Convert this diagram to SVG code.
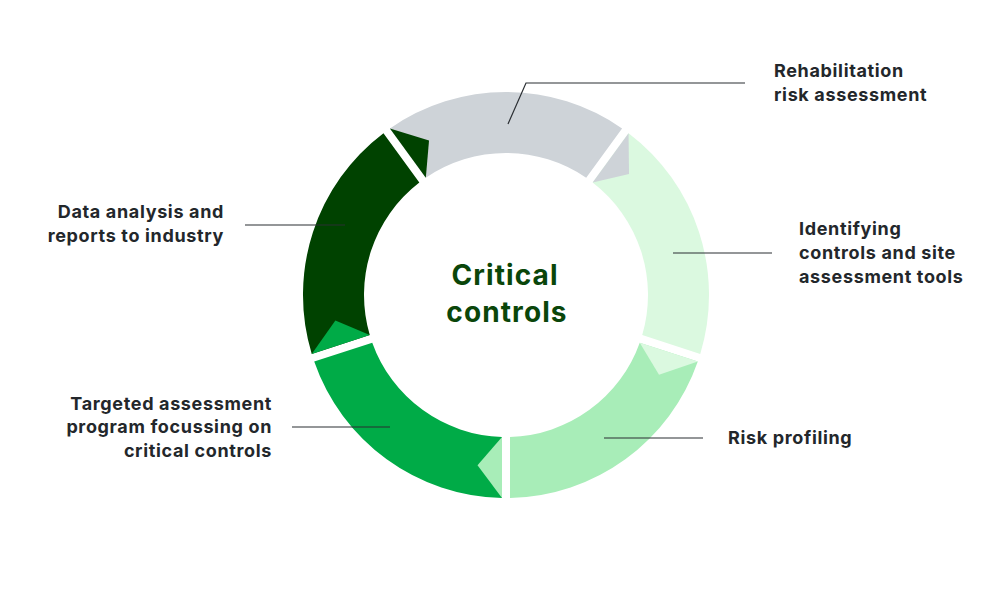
<svg xmlns="http://www.w3.org/2000/svg" width="1000" height="590" viewBox="0 0 1000 590">
  <style>
    .lbl { font-family: Inter, "Liberation Sans", sans-serif; font-weight: 700; font-size: 18px; fill: #23272b; letter-spacing: 0.65px; }
    .ctr { font-family: Inter, "Liberation Sans", sans-serif; font-weight: 700; font-size: 28px; fill: #0a460a; letter-spacing: 1.1px; }
    .lead { fill: none; stroke: #2b2f33; stroke-width: 1.2; }
    .c-gray { fill: #ced3d8; }
    .c-light { fill: #dbf9e0; }
    .c-mid { fill: #a8edb8; }
    .c-green { fill: #00ab47; }
    .c-dark { fill: #004200; }
  </style>
  <rect width="1000" height="590" fill="#ffffff"/>

  <g id="seg-rehabilitation">
    <path class="c-gray" d="M389.94,128.45 A203,203 0 0 1 622.06,128.45 L586.19,177.82 A142,142 0 0 0 425.81,177.82 Z"/>
  </g>
  <g id="seg-identifying">
    <path class="c-light" d="M628.54,133.15 A203,203 0 0 1 700.27,353.92 L642.23,335.06 A142,142 0 0 0 592.67,182.52 Z"/>
  </g>
  <g id="seg-risk-profiling">
    <path class="c-mid" d="M697.79,361.52 A203,203 0 0 1 510,497.96 L510,436.94 A142,142 0 0 0 639.75,342.66 Z"/>
  </g>
  <g id="seg-targeted">
    <path class="c-green" d="M502,497.96 A203,203 0 0 1 314.21,361.52 L372.25,342.66 A142,142 0 0 0 502,436.94 Z"/>
  </g>
  <g id="seg-data-analysis">
    <path class="c-dark" d="M311.73,353.92 A203,203 0 0 1 383.46,133.15 L419.33,182.52 A142,142 0 0 0 369.77,335.06 Z"/>
  </g>

  <g id="arrowheads">
    <polygon class="c-dark" points="389.94,128.45 429.03,140.62 425.81,177.82"/>
    <polygon class="c-gray" points="628.54,133.15 629.04,174.09 592.67,182.52"/>
    <polygon class="c-light" points="697.79,361.52 659.01,374.65 639.75,342.66"/>
    <polygon class="c-mid" points="502,497.96 477.53,465.14 502,436.94"/>
    <polygon class="c-green" points="311.73,353.92 335.39,320.50 369.77,335.06"/>
  </g>

  <g id="connectors">
    <polyline class="lead" points="508,124 526,83 745,83"/>
    <line class="lead" x1="673" y1="253" x2="772" y2="253"/>
    <line class="lead" x1="604" y1="438" x2="703" y2="438"/>
    <line class="lead" x1="245" y1="225" x2="345" y2="225"/>
    <line class="lead" x1="292" y1="427" x2="390" y2="427"/>
  </g>

  <g id="center-label">
    <text class="ctr" x="505" y="285" text-anchor="middle">Critical</text>
    <text class="ctr" x="507" y="322" text-anchor="middle">controls</text>
  </g>

  <g id="label-rehabilitation">
    <text class="lbl" x="774" y="77">Rehabilitation</text>
    <text class="lbl" x="774" y="101">risk assessment</text>
  </g>
  <g id="label-identifying">
    <text class="lbl" x="799" y="235">Identifying</text>
    <text class="lbl" x="799" y="259">controls and site</text>
    <text class="lbl" x="799" y="283">assessment tools</text>
  </g>
  <g id="label-risk-profiling">
    <text class="lbl" x="728" y="444">Risk profiling</text>
  </g>
  <g id="label-data-analysis">
    <text class="lbl" x="224" y="218" text-anchor="end">Data analysis and</text>
    <text class="lbl" x="224" y="242" text-anchor="end">reports to industry</text>
  </g>
  <g id="label-targeted">
    <text class="lbl" x="272" y="410" text-anchor="end">Targeted assessment</text>
    <text class="lbl" x="272" y="433" text-anchor="end">program focussing on</text>
    <text class="lbl" x="272" y="457" text-anchor="end">critical controls</text>
  </g>
</svg>
